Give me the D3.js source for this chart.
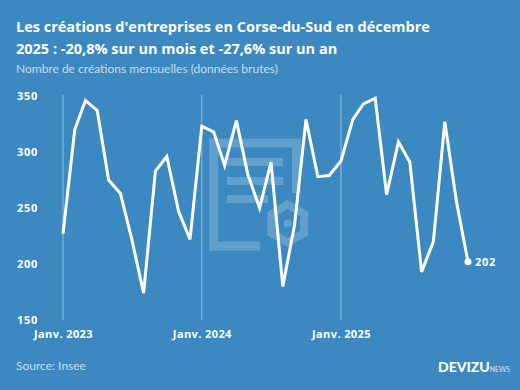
<!DOCTYPE html>
<html>
<head>
<meta charset="utf-8">
<script src="https://cdn.jsdelivr.net/npm/d3@7"></script>
<style>
  html, body { margin: 0; padding: 0; background: #3b89c0; }
  svg { display: block; font-family: Lato, "Open Sans", sans-serif; }
</style>
</head>
<body>
<div id="chart"></div>
<script>
// monthly values, jan 2023 -> dec 2025
var values2023 = [227, 320, 346, 337, 275, 263, 222, 174, 283, 296, 247, 222];
var values2024 = [323, 318, 288, 328, 280, 250, 291, 180, 235, 329, 278, 279];
var values2025 = [292, 329, 343, 348, 262, 309, 291, 193, 220, 327, 255, 202];
var years = [2023, 2024, 2025];
var yTicks = [150, 200, 250, 300, 350];
var xTickLabels = ["Janv. 2023", "Janv. 2024", "Janv. 2025"];

var width = 520, height = 390;
var bg = "#3b89c0";
var boldFont = "'Open Sans', sans-serif";

var data = [];
[values2023, values2024, values2025].forEach(function(arr, k) {
    arr.forEach(function(v, m) {
        data.push({ date: new Date(years[k], m, 1), value: v });
    });
});

var svg = d3.select("#chart").append("svg")
    .attr("width", width)
    .attr("height", height);

svg.append("rect").attr("width", width).attr("height", height).attr("fill", bg);

var x = d3.scaleTime()
    .domain([data[0].date, data[data.length - 1].date])
    .range([63, 468]);

var y = d3.scaleLinear()
    .domain([150, 350])
    .range([320, 96]);

// watermark (document + nut)
var wm = svg.append("g").attr("fill", "none").attr("stroke", "#ffffff").attr("stroke-opacity", 0.2);
wm.append("path")
    .attr("d", "M260,246 H213.5 V143 H296.5 V193")
    .attr("stroke-width", 9);
[162, 181, 199].forEach(function(ly, i) {
    wm.append("line")
        .attr("x1", 227).attr("x2", i == 2 ? 268 : 283)
        .attr("y1", ly).attr("y2", ly)
        .attr("stroke-width", 8);
});
var hex = d3.range(6).map(function(i) {
    var a = Math.PI / 3 * i + Math.PI / 6;
    return [287.7 + 19 * Math.cos(a), 223.5 + 19 * Math.sin(a)];
});
wm.append("path")
    .attr("d", "M" + hex.join("L") + "Z")
    .attr("stroke-width", 8);
svg.append("circle")
    .attr("cx", 287.7).attr("cy", 223.5).attr("r", 4)
    .attr("fill", "#ffffff").attr("fill-opacity", 0.2);

// vertical january gridlines
svg.selectAll(".grid")
    .data(years)
    .enter().append("line")
    .attr("class", "grid")
    .attr("x1", function(d) { return x(new Date(d, 0, 1)); })
    .attr("x2", function(d) { return x(new Date(d, 0, 1)); })
    .attr("y1", y(350) - 1)
    .attr("y2", y(150))
    .attr("stroke", "#ffffff")
    .attr("stroke-opacity", 0.45)
    .attr("stroke-width", 1);

// y axis
var axisY = d3.axisLeft(y).tickValues(yTicks).tickSize(0).tickPadding(0);
var gy = svg.append("g")
    .attr("transform", "translate(38,0)")
    .call(axisY);
gy.select(".domain").remove();
gy.selectAll("text")
    .attr("fill", "#ffffff")
    .attr("font-size", 11)
    .attr("font-weight", "bold")
    .attr("letter-spacing", 0.7)
    .attr("font-family", boldFont);

// x axis
var axisX = d3.axisBottom(x)
    .tickValues(years.map(function(d) { return new Date(d, 0, 1); }))
    .tickFormat(function(d, i) { return xTickLabels[i]; })
    .tickSize(0).tickPadding(0);
var gx = svg.append("g")
    .attr("transform", "translate(0,330)")
    .call(axisX);
gx.select(".domain").remove();
gx.selectAll("text")
    .attr("fill", "#ffffff")
    .attr("font-size", 11)
    .attr("font-weight", "bold")
    .attr("letter-spacing", 0.4)
    .attr("font-family", boldFont);

// line
var line = d3.line()
    .x(function(d) { return x(d.date); })
    .y(function(d) { return y(d.value); });

svg.append("path")
    .datum(data)
    .attr("fill", "none")
    .attr("stroke", "#ffffff")
    .attr("stroke-width", 3)
    .attr("stroke-linejoin", "miter")
    .attr("d", line);

var last = data[data.length - 1];
svg.append("circle")
    .attr("cx", x(last.date))
    .attr("cy", y(last.value))
    .attr("r", 3.5)
    .attr("fill", "#ffffff");
svg.append("text")
    .attr("x", x(last.date) + 7)
    .attr("y", y(last.value) + 4.5)
    .attr("fill", "#ffffff")
    .attr("font-size", 11)
    .attr("font-weight", "bold")
    .attr("letter-spacing", 0.7)
    .attr("font-family", boldFont)
    .text(last.value);

// titles
var title = svg.append("text")
    .attr("fill", "#ffffff")
    .attr("font-size", 14.5)
    .attr("font-weight", "bold")
    .attr("font-family", boldFont);
title.append("tspan").attr("x", 16).attr("y", 32.3).text("Les créations d'entreprises en Corse-du-Sud en décembre");
title.append("tspan").attr("x", 16).attr("y", 54.3).text("2025 : -20,8% sur un mois et -27,6% sur un an");

svg.append("text")
    .attr("x", 16).attr("y", 72.5)
    .attr("fill", "#ffffff").attr("fill-opacity", 0.72)
    .attr("font-size", 12)
    .text("Nombre de créations mensuelles (données brutes)");

svg.append("text")
    .attr("x", 16).attr("y", 370)
    .attr("fill", "#ffffff").attr("fill-opacity", 0.72)
    .attr("font-size", 12)
    .text("Source: Insee");

var logo = svg.append("text")
    .attr("x", 438).attr("y", 372)
    .attr("fill", "#ffffff")
    .attr("font-weight", "900");
logo.append("tspan").attr("font-size", 14).text("DEVIZU");
logo.append("tspan").attr("font-size", 7).attr("font-weight", "normal").attr("fill-opacity", 0.8).text("NEWS");
</script>
</body>
</html>
